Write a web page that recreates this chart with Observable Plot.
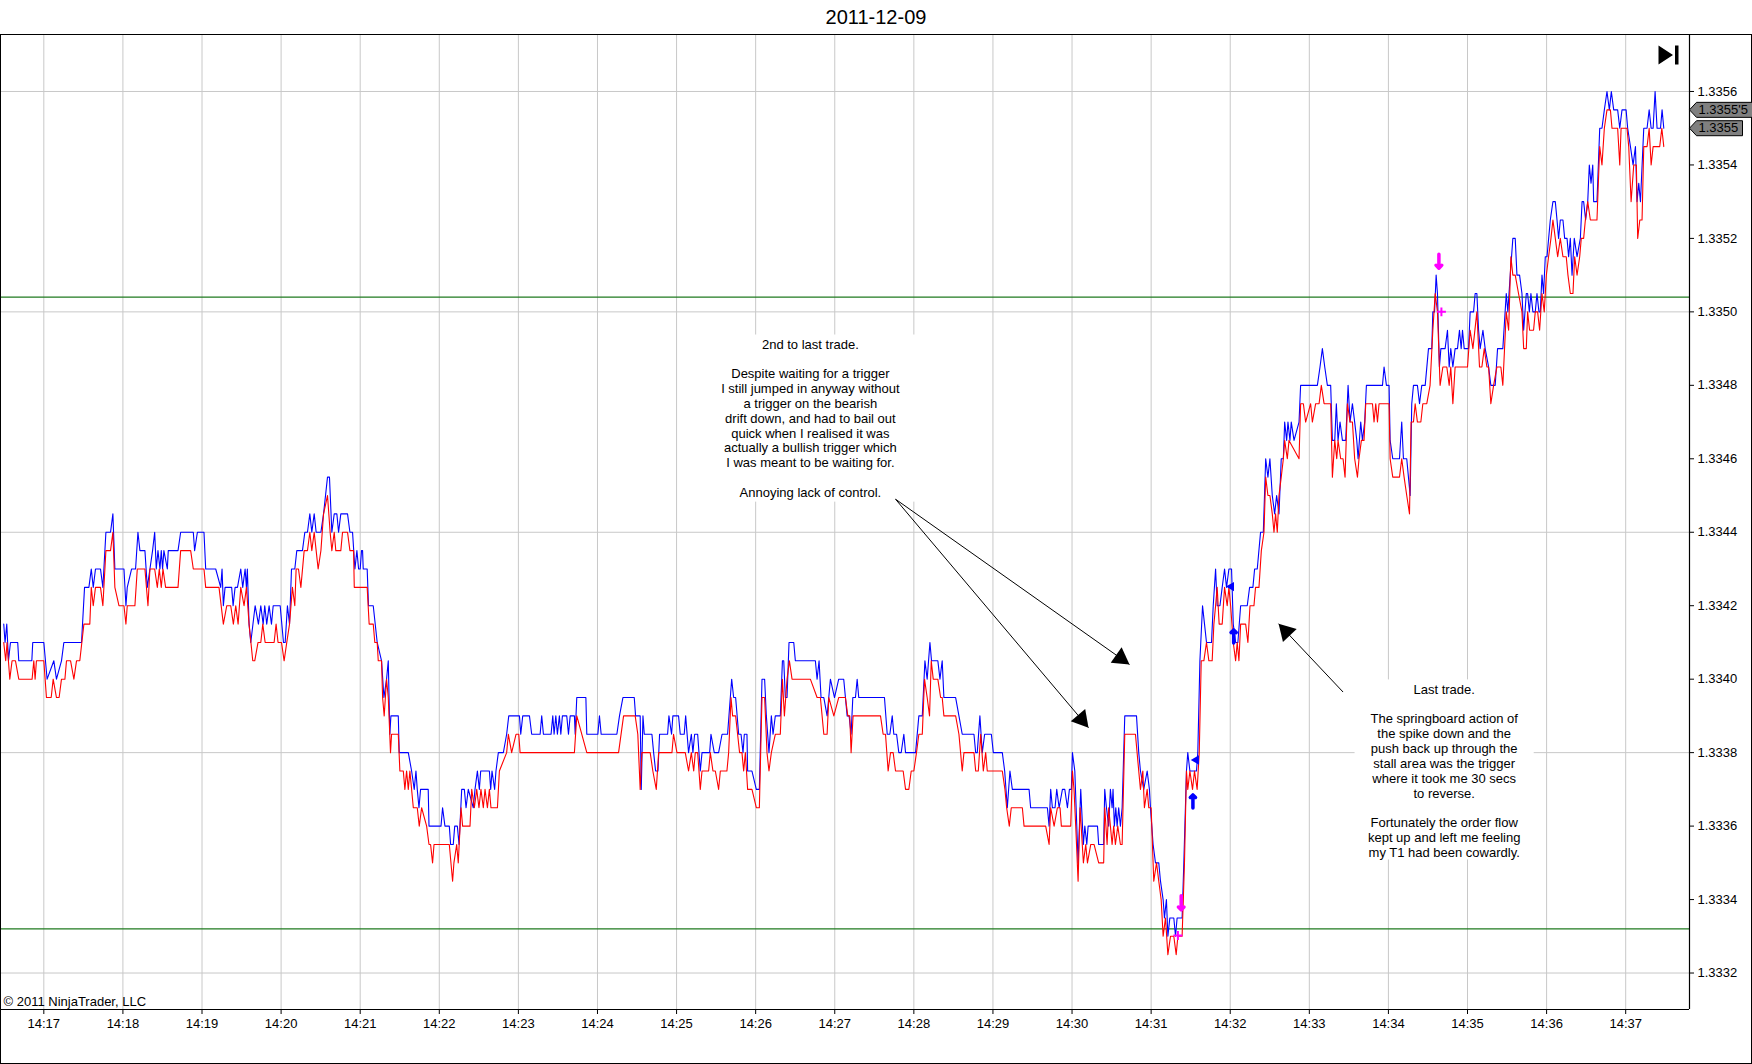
<!DOCTYPE html>
<html><head><meta charset="utf-8">
<script src="https://cdn.jsdelivr.net/npm/d3@7"></script>
<script src="https://cdn.jsdelivr.net/npm/@observablehq/plot@0.6"></script>
<style>
html,body{margin:0;padding:0;background:#fff;}
#title{height:34px;width:1752px;text-align:center;font:20px "Liberation Sans",Arial,sans-serif;line-height:34px;color:#000;}
#frame{width:1750px;height:1028px;border:1px solid #000;}
#frame svg{display:block;}
</style></head><body>
<div id="title">2011-12-09</div>
<div id="frame"></div>
<script>
// seconds after 14:16:00 (2011-12-09) and price
const askTicks = [[29.6,1.33415],[30.6,1.3341],[31.9,1.33415],[33.2,1.33405],[34.7,1.3341],[40.2,1.3341],[41.0,1.33405],[50.9,1.33405],[51.6,1.3341],[60.0,1.3341],[62.5,1.3340],[67.6,1.33405],[69.6,1.3340],[73.4,1.33405],[75.2,1.3341],[88.6,1.3341],[90.9,1.33425],[94.2,1.33425],[96.0,1.3343],[97.5,1.33425],[99.2,1.3343],[103.0,1.3343],[104.8,1.33425],[107.1,1.3344],[110.6,1.3344],[112.4,1.33445],[113.9,1.3343],[120.8,1.3343],[122.3,1.3342],[123.3,1.33425],[126.6,1.3343],[129.6,1.3343],[131.4,1.3344],[132.9,1.33435],[136.7,1.33435],[138.5,1.33425],[140.5,1.3343],[142.5,1.33435],[144.1,1.3344],[145.3,1.3343],[146.6,1.33435],[148.1,1.3343],[149.1,1.33435],[150.1,1.3343],[151.1,1.33435],[153.7,1.3343],[154.4,1.33435],[161.8,1.33435],[163.8,1.3344],[173.4,1.3344],[174.4,1.33435],[176.5,1.3344],[181.5,1.3344],[182.8,1.3343],[190.4,1.3343],[194.2,1.33425],[195.2,1.3343],[196.2,1.3342],[197.5,1.33425],[202.5,1.33425],[203.6,1.3342],[205.1,1.33425],[206.9,1.33425],[209.4,1.3343],[210.9,1.33425],[212.7,1.3343],[213.7,1.33425],[214.4,1.3343],[215.7,1.33415],[217.0,1.3341],[220.3,1.3342],[222.8,1.33415],[224.6,1.3342],[226.4,1.33415],[227.6,1.3342],[229.1,1.33415],[230.9,1.3342],[232.7,1.33415],[234.0,1.3342],[239.3,1.3342],[241.8,1.3341],[243.1,1.3341],[244.8,1.3342],[246.4,1.33415],[247.9,1.3343],[250.4,1.3343],[251.9,1.33435],[256.2,1.33435],[258.0,1.3344],[260.0,1.3344],[261.8,1.33445],[263.3,1.3344],[265.1,1.33445],[266.6,1.3344],[270.2,1.3344],[272.2,1.33445],[275.2,1.33455],[276.7,1.33455],[278.5,1.3344],[280.3,1.33445],[282.3,1.33445],[283.6,1.3344],[285.3,1.33445],[290.4,1.33445],[292.2,1.3344],[294.2,1.3344],[296.0,1.3343],[297.5,1.33435],[298.8,1.3343],[300.0,1.3343],[301.0,1.33435],[301.8,1.33435],[302.3,1.3343],[305.3,1.3343],[306.3,1.3342],[309.9,1.3342],[312.9,1.3341],[316.2,1.33405],[318.0,1.33395],[320.0,1.3340],[321.3,1.33405],[322.5,1.33385],[323.3,1.3339],[328.9,1.3339],[329.6,1.3338],[336.5,1.3338],[339.0,1.33375],[341.0,1.3337],[342.3,1.33375],[343.3,1.3337],[344.6,1.33365],[345.8,1.3337],[351.6,1.3337],[352.2,1.3336],[361.3,1.3336],[362.5,1.33365],[364.3,1.3336],[367.6,1.3336],[368.6,1.33355],[370.6,1.33355],[371.7,1.3336],[373.7,1.3336],[375.0,1.33355],[377.0,1.3337],[379.0,1.3337],[380.3,1.33365],[382.0,1.3337],[385.8,1.33365],[387.1,1.3337],[388.9,1.33375],[390.4,1.3337],[391.4,1.33375],[398.0,1.33375],[399.0,1.3337],[400.0,1.33375],[402.0,1.3337],[403.0,1.33375],[404.8,1.3338],[408.6,1.3338],[411.1,1.33385],[412.7,1.3339],[420.8,1.3339],[421.8,1.33385],[423.3,1.3339],[428.4,1.3339],[430.1,1.33385],[436.5,1.33385],[437.7,1.3339],[439.0,1.33385],[444.8,1.33385],[446.1,1.3339],[447.1,1.33385],[448.4,1.3339],[449.6,1.33385],[451.1,1.3339],[452.2,1.33385],[453.4,1.3339],[456.7,1.3339],[458.0,1.33385],[459.3,1.3339],[462.5,1.3339],[463.1,1.33385],[464.3,1.33395],[471.2,1.33395],[471.9,1.33385],[480.3,1.33385],[481.5,1.3339],[482.8,1.33385],[494.7,1.33385],[496.7,1.3339],[499.3,1.33395],[507.9,1.33395],[508.9,1.3339],[512.4,1.3339],[513.2,1.3337],[514.5,1.3339],[515.5,1.33385],[521.3,1.33385],[522.6,1.3338],[524.1,1.33375],[525.9,1.33375],[527.1,1.33385],[533.2,1.33385],[534.2,1.3339],[536.2,1.33385],[537.2,1.3339],[541.5,1.3339],[542.8,1.33385],[545.8,1.33385],[546.9,1.3339],[549.1,1.3338],[551.2,1.33385],[552.4,1.3338],[553.7,1.33385],[556.0,1.33385],[558.0,1.33375],[559.3,1.3338],[565.1,1.3338],[566.1,1.33385],[568.6,1.3338],[571.9,1.3338],[574.5,1.33385],[578.7,1.33385],[581.8,1.3340],[583.3,1.33395],[584.8,1.33395],[587.1,1.33385],[588.9,1.33385],[590.4,1.3338],[591.4,1.33385],[593.4,1.33385],[593.9,1.33375],[597.2,1.33375],[600.5,1.3337],[602.8,1.3337],[604.8,1.3340],[606.8,1.3340],[608.1,1.3339],[610.1,1.3338],[611.9,1.3339],[613.2,1.33385],[614.9,1.3339],[618.7,1.3339],[620.3,1.33405],[621.3,1.33405],[622.5,1.33395],[623.8,1.33395],[625.3,1.3341],[628.9,1.3341],[630.1,1.33405],[645.3,1.33405],[646.6,1.3340],[648.1,1.33405],[649.6,1.33395],[651.7,1.33395],[654.2,1.3339],[656.7,1.3340],[659.8,1.33395],[663.0,1.3340],[666.8,1.3340],[669.4,1.3339],[670.9,1.3339],[672.4,1.33385],[673.7,1.33395],[675.7,1.33395],[677.0,1.3340],[678.2,1.33395],[697.7,1.33395],[699.8,1.33385],[701.8,1.33385],[703.6,1.3339],[704.8,1.33385],[706.9,1.33385],[708.6,1.3338],[710.4,1.3338],[712.4,1.33385],[713.7,1.3338],[721.3,1.3338],[723.8,1.3339],[726.4,1.3339],[728.4,1.33405],[730.1,1.3340],[732.2,1.3341],[733.4,1.33405],[738.2,1.33405],[739.8,1.3340],[741.5,1.33405],[742.8,1.33395],[751.7,1.33395],[754.2,1.3339],[756.7,1.33385],[765.6,1.33385],[766.9,1.3338],[768.1,1.3338],[770.1,1.3339],[771.9,1.3338],[773.7,1.33385],[778.8,1.33385],[780.3,1.3338],[787.1,1.3338],[788.9,1.33375],[790.9,1.33365],[792.9,1.33375],[794.7,1.3337],[807.4,1.3337],[808.6,1.33365],[821.3,1.33365],[822.6,1.3336],[823.8,1.3337],[825.1,1.33365],[827.1,1.33365],[828.4,1.3337],[830.2,1.33365],[832.7,1.3337],[834.5,1.3337],[836.5,1.33365],[838.0,1.3337],[839.5,1.3337],[840.3,1.3338],[842.1,1.33375],[844.6,1.3335],[846.6,1.3337],[848.6,1.33355],[849.7,1.3336],[851.2,1.33355],[852.2,1.3336],[859.3,1.3336],[860.2,1.33355],[864.0,1.33355],[864.8,1.3337],[866.1,1.33365],[867.8,1.3336],[869.1,1.3337],[870.4,1.33365],[871.1,1.3337],[872.1,1.3336],[873.2,1.33365],[874.2,1.3336],[875.4,1.33365],[876.7,1.3336],[878.0,1.33365],[880.0,1.3339],[888.9,1.3339],[890.6,1.3338],[891.9,1.33375],[894.4,1.3337],[897.0,1.33375],[898.7,1.3337],[899.5,1.33365],[901.5,1.33355],[903.3,1.3335],[905.8,1.3335],[907.1,1.33345],[909.1,1.3334],[910.1,1.33335],[911.6,1.3334],[912.7,1.3333],[914.2,1.33335],[917.2,1.33335],[918.5,1.3333],[919.7,1.33335],[923.5,1.33335],[924.8,1.3335],[926.8,1.33375],[927.8,1.3338],[929.4,1.33375],[934.4,1.33375],[935.4,1.3338],[937.0,1.33405],[939.0,1.3342],[940.5,1.33415],[942.0,1.3341],[945.8,1.3341],[947.1,1.3342],[948.9,1.3343],[950.1,1.3342],[952.2,1.3342],[953.9,1.33425],[955.7,1.3343],[957.2,1.33425],[959.0,1.3343],[961.0,1.3343],[962.3,1.33415],[964.1,1.3341],[965.8,1.3341],[967.9,1.3342],[972.9,1.3342],[974.7,1.33425],[977.2,1.33425],[978.5,1.3343],[980.5,1.3343],[983.0,1.3344],[985.1,1.3344],[986.9,1.3346],[988.6,1.33455],[990.1,1.3346],[991.9,1.3345],[993.7,1.33445],[995.2,1.3345],[997.0,1.33445],[998.7,1.3346],[1000.3,1.3346],[1001.3,1.3347],[1002.8,1.33465],[1003.8,1.3347],[1005.3,1.33465],[1006.3,1.3347],[1008.4,1.33465],[1012.2,1.3347],[1013.4,1.3348],[1026.1,1.3348],[1028.1,1.33485],[1029.9,1.3349],[1031.7,1.33485],[1033.7,1.3348],[1036.2,1.3348],[1037.5,1.33465],[1039.3,1.33465],[1040.5,1.33475],[1041.8,1.33465],[1043.3,1.3347],[1045.1,1.33465],[1047.6,1.33465],[1049.4,1.3348],[1050.9,1.3347],[1052.7,1.33475],[1054.4,1.3347],[1056.0,1.33465],[1057.0,1.3346],[1059.0,1.3347],[1060.3,1.33465],[1062.0,1.3347],[1063.3,1.3348],[1075.5,1.3348],[1076.7,1.33485],[1078.5,1.3348],[1080.5,1.3348],[1081.3,1.33465],[1083.3,1.3346],[1088.4,1.3346],[1090.1,1.3347],[1091.4,1.3346],[1093.9,1.3346],[1095.2,1.33455],[1096.5,1.3345],[1097.7,1.33475],[1099.0,1.3348],[1102.0,1.3348],[1103.6,1.33475],[1105.3,1.3348],[1107.9,1.3348],[1110.4,1.3349],[1112.9,1.3349],[1113.7,1.3350],[1115.0,1.3350],[1116.2,1.3351],[1117.2,1.33505],[1118.7,1.33485],[1119.8,1.3349],[1123.0,1.3349],[1124.8,1.33495],[1126.1,1.33485],[1127.3,1.3349],[1128.9,1.33485],[1130.6,1.3349],[1132.4,1.3349],[1133.9,1.33495],[1135.2,1.3349],[1136.2,1.33495],[1137.5,1.3349],[1140.8,1.3349],[1142.0,1.3350],[1144.6,1.3350],[1145.8,1.33505],[1147.1,1.33505],[1148.4,1.33495],[1149.6,1.3349],[1151.7,1.33495],[1153.4,1.3349],[1156.0,1.33485],[1157.7,1.3348],[1161.0,1.3348],[1162.8,1.3349],[1166.8,1.3349],[1169.4,1.33505],[1170.6,1.3350],[1172.4,1.3351],[1174.4,1.3352],[1176.2,1.3352],[1177.5,1.3351],[1179.5,1.3351],[1181.3,1.33505],[1182.6,1.33495],[1184.6,1.33505],[1185.6,1.33505],[1186.9,1.3350],[1188.1,1.33505],[1189.6,1.3350],[1191.4,1.3350],[1192.7,1.33505],[1194.2,1.3350],[1195.2,1.3350],[1196.5,1.3351],[1197.7,1.33505],[1199.0,1.33515],[1200.3,1.33515],[1202.8,1.33525],[1204.8,1.3353],[1206.6,1.3353],[1207.9,1.33525],[1209.1,1.3352],[1210.4,1.33525],[1212.4,1.33525],[1213.7,1.3352],[1215.5,1.3352],[1216.7,1.33515],[1218.0,1.3352],[1219.3,1.3351],[1221.0,1.3352],[1223.1,1.33515],[1225.6,1.3352],[1226.9,1.3353],[1228.1,1.3353],[1229.6,1.33525],[1231.2,1.3353],[1232.4,1.3354],[1233.7,1.33535],[1235.0,1.3354],[1235.7,1.3353],[1238.2,1.3353],[1240.3,1.3355],[1242.0,1.3355],[1243.8,1.33555],[1245.8,1.3356],[1247.6,1.33555],[1249.1,1.3356],[1250.9,1.33555],[1253.9,1.33555],[1255.5,1.3355],[1257.2,1.33555],[1260.3,1.33555],[1261.5,1.3355],[1263.6,1.33545],[1265.6,1.3354],[1267.4,1.33545],[1268.6,1.3353],[1269.9,1.33535],[1271.2,1.3353],[1273.7,1.3355],[1276.2,1.3355],[1277.8,1.33555],[1279.3,1.3355],[1280.8,1.3355],[1282.3,1.3356],[1283.8,1.3355],[1286.4,1.3355],[1287.6,1.33555],[1288.9,1.3355]];

const bidTicks = [[29.6,1.3341],[31.1,1.33405],[32.1,1.3341],[34.2,1.3340],[35.9,1.33405],[38.5,1.33405],[41.0,1.3340],[51.1,1.3340],[52.4,1.33405],[53.4,1.3340],[54.4,1.33405],[60.0,1.33405],[62.0,1.33395],[65.6,1.33395],[67.1,1.3340],[69.6,1.33395],[71.6,1.33395],[73.4,1.3340],[76.0,1.3340],[77.2,1.33405],[80.3,1.33405],[82.8,1.3340],[84.8,1.33405],[87.3,1.33405],[90.4,1.33415],[94.9,1.33415],[96.0,1.33425],[97.5,1.3342],[99.2,1.33425],[103.0,1.33425],[104.8,1.3342],[107.1,1.33435],[110.6,1.33435],[112.4,1.3344],[113.9,1.33425],[117.0,1.3342],[120.8,1.3342],[122.3,1.33415],[123.3,1.3342],[129.1,1.3342],[130.9,1.3343],[136.7,1.3343],[139.0,1.3342],[140.5,1.3343],[144.1,1.3343],[146.1,1.33425],[147.6,1.3343],[149.1,1.33425],[150.4,1.3343],[152.4,1.33425],[161.8,1.33425],[163.8,1.33435],[171.4,1.33435],[173.4,1.3343],[181.5,1.3343],[182.8,1.33425],[192.9,1.33425],[196.2,1.33415],[198.8,1.3342],[201.8,1.3342],[203.8,1.33415],[205.6,1.3342],[207.4,1.33415],[209.4,1.33425],[211.9,1.3342],[213.7,1.33425],[215.7,1.33415],[218.5,1.33405],[220.0,1.33405],[222.5,1.3341],[224.6,1.3341],[226.1,1.33415],[227.9,1.3341],[234.7,1.3341],[236.2,1.33415],[237.7,1.3341],[240.3,1.3341],[242.3,1.33405],[244.3,1.3341],[246.4,1.33415],[248.6,1.33425],[250.4,1.3342],[251.4,1.3343],[253.2,1.3343],[255.0,1.33425],[257.5,1.33435],[260.0,1.33435],[261.8,1.3344],[263.3,1.33435],[265.1,1.3344],[266.6,1.33435],[268.1,1.3343],[270.2,1.33435],[272.2,1.33445],[275.2,1.3345],[277.2,1.3344],[278.5,1.33435],[280.3,1.3344],[281.5,1.33435],[285.3,1.33435],[286.6,1.3344],[290.4,1.3344],[292.2,1.33435],[295.0,1.33435],[295.5,1.33425],[305.3,1.33425],[306.8,1.33415],[309.9,1.33415],[311.1,1.3341],[312.9,1.3341],[313.7,1.33405],[316.2,1.33405],[317.0,1.33395],[318.2,1.3339],[320.0,1.3340],[321.3,1.33395],[323.0,1.3338],[323.8,1.33385],[328.9,1.33385],[330.1,1.33375],[332.7,1.33375],[333.9,1.3337],[335.2,1.33375],[336.5,1.3337],[337.7,1.33375],[340.3,1.33365],[343.3,1.33365],[344.8,1.3336],[346.6,1.33365],[350.4,1.3336],[352.2,1.33355],[353.4,1.33355],[354.9,1.3335],[356.0,1.33355],[367.6,1.33355],[370.1,1.33345],[371.1,1.3335],[373.2,1.33355],[374.4,1.3335],[376.5,1.33365],[377.7,1.3336],[383.3,1.3336],[384.6,1.3337],[386.6,1.33365],[388.4,1.3337],[390.1,1.33365],[391.6,1.3337],[393.4,1.33365],[394.7,1.3337],[396.5,1.33365],[398.0,1.3337],[399.2,1.33365],[404.1,1.33365],[405.6,1.33375],[411.1,1.3338],[412.4,1.33385],[414.9,1.3338],[418.2,1.33385],[420.3,1.33385],[421.3,1.3338],[462.5,1.3338],[464.3,1.3339],[471.9,1.3338],[496.0,1.3338],[499.8,1.3339],[508.6,1.3339],[510.6,1.33385],[512.4,1.3337],[513.7,1.3338],[520.0,1.3338],[522.0,1.33375],[524.6,1.3337],[526.4,1.3338],[536.5,1.3338],[537.7,1.33385],[540.3,1.3338],[546.6,1.3338],[549.1,1.33375],[551.2,1.3338],[553.0,1.33375],[554.2,1.3338],[556.0,1.3338],[558.0,1.3337],[559.3,1.33375],[564.3,1.33375],[565.6,1.3338],[567.6,1.33375],[569.4,1.33375],[571.9,1.3337],[573.2,1.33375],[578.2,1.33375],[579.5,1.3338],[581.3,1.33395],[582.5,1.3339],[584.8,1.3339],[586.3,1.33385],[587.8,1.3338],[589.6,1.3338],[590.9,1.33375],[592.2,1.3338],[593.9,1.3337],[597.2,1.3337],[600.5,1.33365],[602.8,1.33365],[604.8,1.33395],[606.8,1.33395],[608.6,1.3338],[610.1,1.33375],[611.9,1.3338],[614.9,1.33385],[618.7,1.33385],[620.3,1.3340],[621.8,1.3339],[623.8,1.3340],[625.6,1.33405],[627.6,1.3340],[641.5,1.3340],[646.6,1.33395],[649.1,1.33395],[651.7,1.33385],[654.2,1.33385],[655.5,1.33395],[659.3,1.3339],[663.0,1.33395],[668.1,1.33395],[669.9,1.3339],[671.4,1.3339],[672.4,1.3338],[673.9,1.3339],[694.7,1.3339],[696.7,1.33385],[698.5,1.33385],[700.5,1.33375],[702.3,1.3338],[704.3,1.3338],[706.1,1.33375],[711.9,1.33375],[713.7,1.3337],[716.2,1.3337],[718.0,1.33375],[720.0,1.33375],[722.0,1.3338],[723.8,1.33385],[726.4,1.33385],[728.1,1.3340],[730.1,1.33395],[731.9,1.3339],[733.2,1.33405],[734.7,1.3340],[738.2,1.3340],[740.3,1.33395],[741.5,1.33395],[742.8,1.3339],[751.7,1.3339],[754.2,1.33385],[756.7,1.33375],[758.0,1.3338],[765.6,1.3338],[766.9,1.33375],[768.9,1.33375],[770.7,1.33385],[772.7,1.33375],[774.5,1.3338],[775.7,1.33375],[787.1,1.33375],[789.1,1.3337],[790.4,1.33365],[792.4,1.3336],[793.9,1.33365],[802.3,1.33365],[803.6,1.3336],[820.0,1.3336],[822.6,1.33355],[823.8,1.33365],[826.4,1.3336],[828.9,1.33365],[830.9,1.33365],[831.9,1.3336],[839.0,1.3336],[840.3,1.33375],[841.5,1.3337],[842.8,1.3336],[844.6,1.33345],[846.1,1.33365],[848.6,1.3335],[850.4,1.33355],[851.7,1.3335],[854.2,1.33355],[856.7,1.33355],[860.2,1.3335],[864.0,1.3335],[864.8,1.33365],[866.6,1.33355],[867.8,1.33365],[869.1,1.3336],[870.4,1.33355],[871.6,1.3336],[872.9,1.33355],[874.7,1.3336],[876.7,1.33355],[878.0,1.33355],[880.0,1.33385],[888.1,1.33385],[890.6,1.33375],[891.9,1.3337],[893.7,1.33375],[894.9,1.33365],[897.0,1.3337],[898.2,1.33365],[900.0,1.33365],[902.0,1.33345],[904.1,1.3335],[905.8,1.33345],[907.6,1.3334],[909.1,1.3333],[910.9,1.33335],[912.7,1.33325],[914.7,1.3333],[917.2,1.3333],[919.0,1.33325],[920.3,1.3333],[923.5,1.3333],[925.3,1.3335],[926.8,1.33375],[927.8,1.3337],[929.4,1.33375],[931.4,1.3337],[932.9,1.33375],[934.9,1.3337],[936.5,1.3338],[938.0,1.33405],[940.0,1.33405],[942.0,1.3341],[943.8,1.33405],[946.3,1.33405],[947.6,1.33415],[948.9,1.3342],[950.1,1.33425],[951.6,1.33415],[953.9,1.33415],[955.7,1.33425],[957.7,1.3342],[959.0,1.33425],[960.3,1.3342],[962.3,1.3341],[964.1,1.33405],[965.3,1.3341],[966.6,1.33405],[967.9,1.33415],[971.7,1.33415],[973.4,1.3341],[975.0,1.3342],[978.0,1.3342],[979.2,1.33425],[981.8,1.33425],[983.6,1.33435],[985.6,1.3344],[986.9,1.33455],[988.6,1.3345],[990.1,1.3345],[991.9,1.33445],[993.2,1.3344],[994.4,1.33445],[995.7,1.3344],[997.0,1.3345],[998.7,1.33455],[1000.3,1.3346],[1001.3,1.33465],[1003.3,1.3346],[1004.6,1.33465],[1012.2,1.3346],[1013.4,1.33475],[1015.5,1.33475],[1017.2,1.3347],[1021.0,1.33475],[1022.3,1.3347],[1024.8,1.33475],[1027.4,1.33475],[1029.1,1.3348],[1031.2,1.33475],[1036.2,1.33475],[1037.5,1.33455],[1039.3,1.33465],[1040.8,1.3346],[1041.8,1.33465],[1043.8,1.3346],[1045.6,1.3346],[1047.1,1.33455],[1048.9,1.33475],[1050.9,1.3347],[1052.7,1.3347],[1054.4,1.3346],[1056.5,1.33455],[1057.7,1.3346],[1059.5,1.33465],[1061.5,1.33465],[1062.8,1.33475],[1067.9,1.33475],[1069.1,1.3347],[1070.4,1.33475],[1071.7,1.3347],[1072.9,1.33475],[1080.5,1.33475],[1081.3,1.3346],[1083.3,1.33455],[1088.4,1.33455],[1090.1,1.3346],[1091.9,1.33455],[1093.9,1.3345],[1096.0,1.33445],[1097.2,1.3347],[1099.0,1.3347],[1100.3,1.33475],[1102.0,1.3347],[1104.6,1.3347],[1106.1,1.33475],[1109.1,1.33475],[1111.6,1.3348],[1113.7,1.33495],[1115.5,1.33505],[1117.2,1.3350],[1119.2,1.3348],[1121.3,1.33485],[1124.3,1.33485],[1126.1,1.3348],[1127.3,1.33485],[1128.9,1.33475],[1130.6,1.33485],[1140.0,1.33485],[1142.0,1.33495],[1144.1,1.3349],[1147.1,1.3350],[1149.1,1.33485],[1150.9,1.33485],[1152.7,1.3349],[1154.7,1.33485],[1156.0,1.33485],[1157.7,1.33475],[1159.8,1.3348],[1162.3,1.33485],[1165.3,1.33485],[1166.8,1.3348],[1169.4,1.3350],[1171.2,1.33495],[1172.9,1.33515],[1174.4,1.3351],[1176.2,1.3351],[1178.7,1.33505],[1181.3,1.3350],[1182.6,1.3349],[1184.6,1.3349],[1185.6,1.3350],[1187.1,1.33495],[1190.1,1.33495],[1191.4,1.3350],[1193.2,1.3350],[1194.7,1.33495],[1196.5,1.33505],[1198.2,1.3350],[1199.8,1.3351],[1201.5,1.33515],[1203.3,1.3352],[1204.8,1.33525],[1206.6,1.3352],[1208.4,1.33515],[1210.4,1.3352],[1212.4,1.33515],[1214.9,1.33515],[1216.2,1.3351],[1218.0,1.33505],[1220.0,1.33505],[1221.3,1.33515],[1223.1,1.3351],[1225.1,1.33515],[1226.3,1.3352],[1228.1,1.3352],[1229.4,1.33525],[1231.2,1.3353],[1233.2,1.33525],[1238.2,1.33525],[1240.3,1.33545],[1242.0,1.3354],[1243.8,1.3355],[1245.8,1.33555],[1248.4,1.33555],[1249.6,1.3355],[1253.9,1.3355],[1255.5,1.3354],[1256.5,1.3355],[1261.0,1.3355],[1262.3,1.33545],[1264.1,1.3353],[1266.1,1.3354],[1268.1,1.3354],[1269.1,1.3352],[1270.7,1.33525],[1272.4,1.33525],[1273.7,1.33545],[1276.2,1.33545],[1277.8,1.3355],[1279.3,1.3354],[1280.8,1.33545],[1285.8,1.33545],[1287.4,1.3355],[1288.9,1.33545]];

const minuteSecs = [60,120,180,240,300,360,420,480,540,600,660,720,780,840,900,960,1020,1080,1140,1200,1260];
const priceTicks = [1.3332,1.3334,1.3336,1.3338,1.3340,1.3342,1.3344,1.3346,1.3348,1.3350,1.3352,1.3354,1.3356];
const priceGrid = [1.3332,1.3338,1.3344,1.3350,1.3356];
const levelLines = [1.33504, 1.33332];
const lastPrices = [{label:"1.3355'5", price:1.33555}, {label:"1.3355", price:1.3355}];

const note1 = "2nd to last trade.\n\nDespite waiting for a trigger\nI still jumped in anyway without\na trigger on the bearish\ndrift down, and had to bail out\nquick when I realised it was\nactually a bullish trigger which\nI was meant to be waiting for.\n\nAnnoying lack of control.";
const note2 = "Last trade.\n\nThe springboard action of\nthe spike down and the\npush back up through the\nstall area was the trigger\nwhere it took me 30 secs\nto reverse.\n\nFortunately the order flow\nkept up and left me feeling\nmy T1 had been cowardly.";
const notes = [{text: note1, sec: 641.5, price: 1.334711}, {text: note2, sec: 1122.3, price: 1.333751}];
const noteBoxes = [[558.8, 724.3, 1.334482, 1.334937], [1054.7, 1190.6, 1.333508, 1.333998]];
const noteArrows = [[706.1,1.33449,883.6,1.33404],[706.1,1.33449,852.5,1.333868],[1045.6,1.333965,996.7,1.334151]];

const buyArrows = [[931.7,1.333685],[962.6,1.334134]];
const buyStops = [[934.2,1.33378],[960.8,1.334252]];
const sellArrows = [[922.8,1.333372],[1118.3,1.335119]];
const sellFills = [[920.3,1.333302],[1120.2,1.335]];

const T0 = Date.UTC(2011, 11, 9, 14, 16, 0);
const at = s => new Date(T0 + s * 1000);
const xDomain = [at(27.9), at(1308.4)];
const yDomain = [1.3331007, 1.3357524];
const W = 1750, H = 1028, mR = 62, mB = 54;
const xs = d3.scaleUtc(xDomain, [0, W - mR]);
const ys = d3.scaleLinear(yDomain, [H - mB, 0]);

const headR = 7, headTip = 2 * Math.sqrt(Math.PI * headR * headR / (3 * Math.sqrt(3)));
const heads = noteArrows.map(([s1, p1, s2, p2]) => {
  const x1 = xs(at(s1)), y1 = ys(p1), x2 = xs(at(s2)), y2 = ys(p2);
  const L = Math.hypot(x2 - x1, y2 - y1), ux = (x2 - x1) / L, uy = (y2 - y1) / L;
  return {x: xs.invert(x2 - ux * headTip), y: ys.invert(y2 - uy * headTip), angle: Math.atan2(ux, -uy) * 180 / Math.PI};
});

const tagSymbol = w => ({draw(ctx) { ctx.moveTo(0, 0); ctx.lineTo(7, -7.5); ctx.lineTo(w, -7.5); ctx.lineTo(w, 7.5); ctx.lineTo(7, 7.5); ctx.closePath(); }});
const iconSymbol = {draw(ctx) { ctx.moveTo(-31, 10); ctx.lineTo(-16.5, 19.5); ctx.lineTo(-31, 29); ctx.closePath(); ctx.rect(-14.5, 10, 3.5, 19); }};

const sans = '"Liberation Sans",Arial,sans-serif';

const plot = Plot.plot({
  width: W, height: H,
  marginTop: 0, marginLeft: 0, marginRight: mR, marginBottom: mB,
  style: {fontFamily: sans, fontSize: "13px", color: "#000", background: "#fff", overflow: "visible"},
  x: {type: "utc", domain: xDomain},
  y: {domain: yDomain},
  marks: [
    Plot.ruleX(minuteSecs, {x: s => at(s), stroke: "#c8c8c8", strokeOpacity: 1}),
    Plot.ruleY(priceGrid, {stroke: "#c8c8c8", strokeOpacity: 1}),
    Plot.rect(noteBoxes, {x1: d => at(d[0]), x2: d => at(d[1]), y1: d => d[2], y2: d => d[3], fill: "#fff"}),
    Plot.ruleY(levelLines, {stroke: "#1f7a1f", strokeWidth: 1.2}),
    Plot.line(askTicks, {x: d => at(d[0]), y: d => d[1], stroke: "#0000ff", strokeWidth: 1.1}),
    Plot.line(bidTicks, {x: d => at(d[0]), y: d => d[1], stroke: "#ff0000", strokeWidth: 1.1}),
    Plot.vector(buyArrows, {x: d => at(d[0]), y: d => d[1], length: 13, rotate: 0, anchor: "end", stroke: "#0000ff", strokeWidth: 3.5}),
    Plot.dot(buyStops, {x: d => at(d[0]), y: d => d[1], symbol: "triangle", rotate: -90, r: 3.5, fill: "#0000ff", stroke: "none"}),
    Plot.vector(sellArrows, {x: d => at(d[0]), y: d => d[1], length: 14, rotate: 180, anchor: "end", stroke: "#ff00ff", strokeWidth: 3.5}),
    Plot.dot(sellFills, {x: d => at(d[0]), y: d => d[1], symbol: "plus", r: 3, stroke: "#ff00ff", strokeWidth: 2}),
    Plot.link(noteArrows, {x1: d => at(d[0]), y1: d => d[1], x2: d => at(d[2]), y2: d => d[3], stroke: "#000", strokeWidth: 1}),
    Plot.dot(heads, {x: "x", y: "y", rotate: "angle", symbol: "triangle", r: headR, fill: "#000", stroke: "none"}),
    Plot.text(notes, {x: d => at(d.sec), y: "price", text: "text", textAnchor: "middle", lineAnchor: "middle", lineHeight: 1.141, fontSize: 13, fill: "#000"}),
    Plot.text(["© 2011 NinjaTrader, LLC"], {frameAnchor: "bottom-left", textAnchor: "start", lineAnchor: "bottom", dx: 2, dy: -4, fontSize: 13, fill: "#000"}),
    Plot.dot([0], {frameAnchor: "top-right", symbol: iconSymbol, fill: "#000", stroke: "none"}),
    Plot.axisX({ticks: minuteSecs.map(at), tickFormat: d3.utcFormat("%H:%M"), tickSize: 5, tickPadding: 4, label: null, fontSize: 13}),
    Plot.axisY({anchor: "right", ticks: priceTicks, tickFormat: d => d.toFixed(4), tickSize: 4, tickPadding: 4, label: null, fontSize: 13}),
    Plot.ruleX([xDomain[1]], {stroke: "#000", strokeWidth: 1.2}),
    Plot.ruleY([yDomain[0]], {stroke: "#000", strokeWidth: 1.2}),
    Plot.dot([lastPrices[0]], {x: () => xDomain[1], y: "price", symbol: tagSymbol(63), fill: "#808080", stroke: "#000", strokeWidth: 1}),
    Plot.dot([lastPrices[1]], {x: () => xDomain[1], y: "price", symbol: tagSymbol(53), fill: "#808080", stroke: "#000", strokeWidth: 1}),
    Plot.text(lastPrices, {x: () => xDomain[1], y: "price", text: "label", textAnchor: "start", dx: 9, fontSize: 13, fill: "#000"})
  ]
});
document.getElementById("frame").appendChild(plot);
</script>
</body></html>
